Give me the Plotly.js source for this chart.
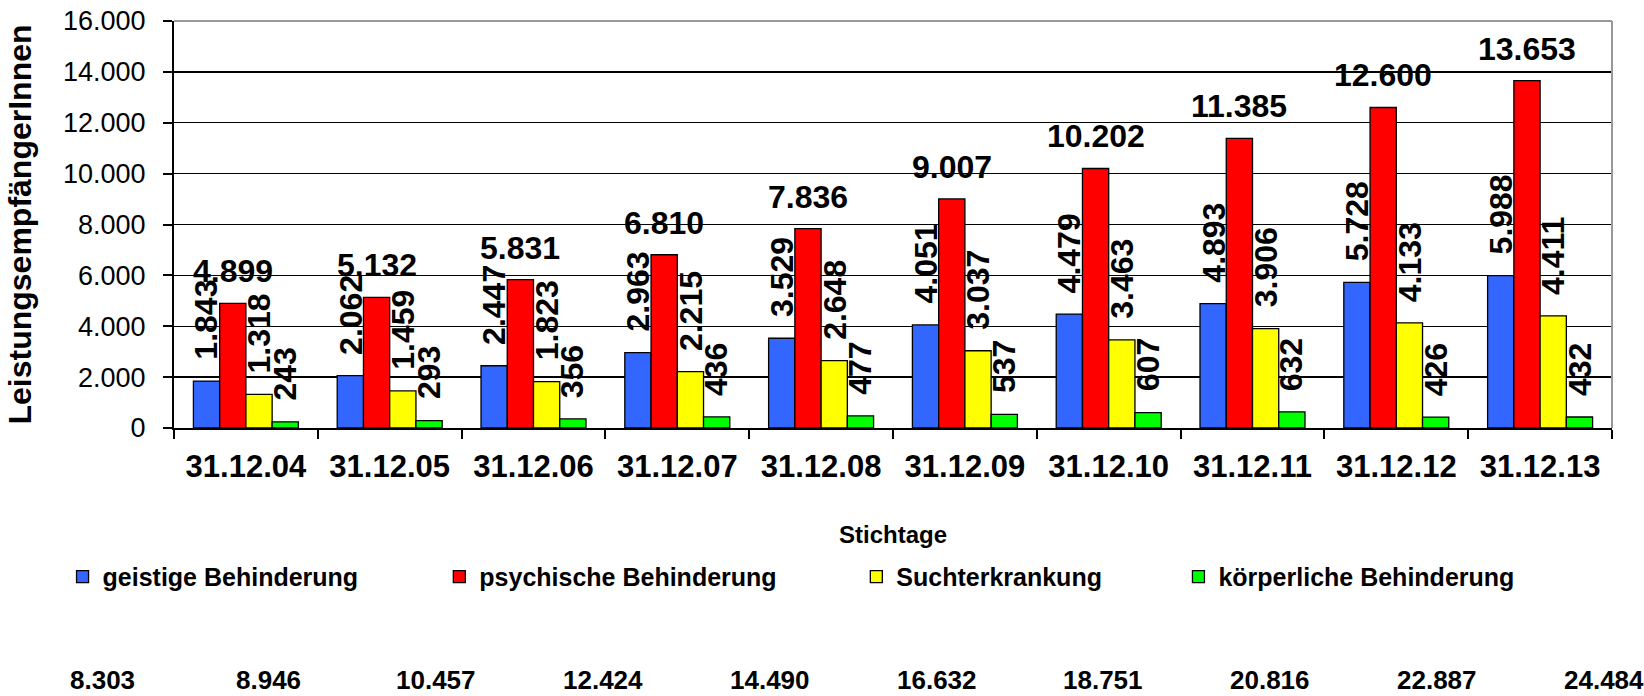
<!DOCTYPE html>
<html>
<head>
<meta charset="utf-8">
<script src="https://cdn.plot.ly/plotly-3.0.1.min.js"></script>
<style>
  html, body { margin: 0; padding: 0; background: #ffffff; }
  #chart { width: 1644px; height: 696px; }
</style>
</head>
<body>
<div id="chart"></div>
<script>
// ---------- data ----------
const categories = ['31.12.04', '31.12.05', '31.12.06', '31.12.07', '31.12.08',
                    '31.12.09', '31.12.10', '31.12.11', '31.12.12', '31.12.13'];
const geistige    = [1843, 2062, 2447, 2963, 3529, 4051, 4479, 4893, 5728, 5988];
const psychische  = [4899, 5132, 5831, 6810, 7836, 9007, 10202, 11385, 12600, 13653];
const sucht       = [1318, 1459, 1823, 2215, 2648, 3037, 3463, 3906, 4133, 4411];
const koerperlich = [243, 293, 356, 436, 477, 537, 607, 632, 426, 432];
const totals      = [8303, 8946, 10457, 12424, 14490, 16632, 18751, 20816, 22887, 24484];
const seriesNames = ['geistige Behinderung', 'psychische Behinderung', 'Suchterkrankung', 'körperliche Behinderung'];
const xTitle = 'Stichtage';
const yTitle = 'LeistungsempfängerInnen';

// ---------- style ----------
const FONT = 'Arial, "Liberation Sans", sans-serif';
const colors = ['#3366FF', '#FF0000', '#FFFF00', '#00FF00'];
const labelAngles = [-90, 0, -90, -90];
const legendIds = ['legend', 'legend2', 'legend3', 'legend4'];
const legendX = [-0.0775, 0.1845, 0.4745, 0.6985];
const BARGAP = 0.27;

function fmt(v) {
  return String(v).replace(/\B(?=(\d{3})+(?!\d))/g, '.');
}

const seriesValues = [geistige, psychische, sucht, koerperlich];

const traces = seriesValues.map((vals, s) => ({
  type: 'bar',
  name: seriesNames[s],
  x: categories,
  y: vals,
  marker: { color: colors[s], line: { color: '#000000', width: 1.3 } },
  legend: legendIds[s],
  hoverinfo: 'skip'
}));

// value labels via annotations positioned at the bar centres
const barW = (1 - BARGAP) / seriesValues.length;
const annotations = [];
seriesValues.forEach((vals, s) => {
  const off = (s - (seriesValues.length - 1) / 2) * barW;
  vals.forEach((v, i) => {
    annotations.push({
      xref: 'x', yref: 'y',
      x: i + off, y: v,
      text: fmt(v),
      showarrow: false,
      textangle: labelAngles[s],
      xanchor: 'center', yanchor: 'bottom',
      yshift: labelAngles[s] === 0 ? 12 : 19,
      font: { family: FONT, size: 32, color: '#000000', weight: 'bold' }
    });
  });
});

// totals row
const tStart = -0.050, tStep = 0.11606;
totals.forEach((t, i) => {
  annotations.push({
    xref: 'paper', yref: 'paper',
    x: tStart + i * tStep, y: -0.619,
    text: fmt(t),
    showarrow: false,
    xanchor: 'center', yanchor: 'middle',
    font: { family: FONT, size: 26, color: '#000000', weight: 'bold' }
  });
});

const layout = {
  width: 1644, height: 696,
  autosize: false,
  paper_bgcolor: '#ffffff',
  plot_bgcolor: '#ffffff',
  separators: ',.',
  margin: { l: 174, r: 32, t: 21, b: 268, pad: 0 },
  barmode: 'group',
  bargap: BARGAP,
  bargroupgap: 0,
  font: { family: FONT, color: '#000000' },
  showlegend: true,
  xaxis: {
    type: 'category',
    showline: true, linecolor: '#000000', linewidth: 2,
    ticks: 'outside', tickson: 'boundaries', ticklen: 9, tickwidth: 2, tickcolor: '#000000',
    showgrid: false,
    tickfont: { family: FONT, size: 31, color: '#000000', weight: 'bold' },
    ticklabelstandoff: 10,
    title: { text: xTitle, standoff: 43, font: { family: FONT, size: 24, color: '#000000', weight: 'bold' } },
    automargin: false,
    fixedrange: true
  },
  yaxis: {
    range: [0, 16000], dtick: 2000, tick0: 0,
    tickformat: ',.0f',
    showline: true, linecolor: '#000000', linewidth: 2,
    ticks: 'outside', ticklen: 9, tickwidth: 2, tickcolor: '#000000',
    showgrid: true, gridcolor: '#000000', gridwidth: 1.3,
    zeroline: false,
    tickfont: { family: FONT, size: 27, color: '#000000' },
    ticklabelstandoff: 12,
    title: { text: yTitle, standoff: 22, font: { family: FONT, size: 32, color: '#000000', weight: 'bold' } },
    automargin: false,
    fixedrange: true
  },
  shapes: [
    { type: 'line', xref: 'paper', yref: 'paper', x0: 0, x1: 1, y0: 1, y1: 1, line: { color: '#999999', width: 2 }, layer: 'above' },
    { type: 'line', xref: 'paper', yref: 'paper', x0: 1, x1: 1, y0: 0, y1: 1, line: { color: '#999999', width: 2 }, layer: 'above' }
  ],
  annotations: annotations
};

legendIds.forEach((id, s) => {
  layout[id] = {
    x: legendX[s], xref: 'paper', xanchor: 'left',
    y: -0.366, yref: 'paper', yanchor: 'middle',
    orientation: 'h',
    bgcolor: 'rgba(0,0,0,0)', borderwidth: 0,
    itemwidth: 30,
    font: { family: FONT, size: 25, color: '#000000', weight: 'bold' }
  };
});

Plotly.newPlot('chart', traces, layout, { displayModeBar: false, staticPlot: true });
</script>
</body>
</html>
